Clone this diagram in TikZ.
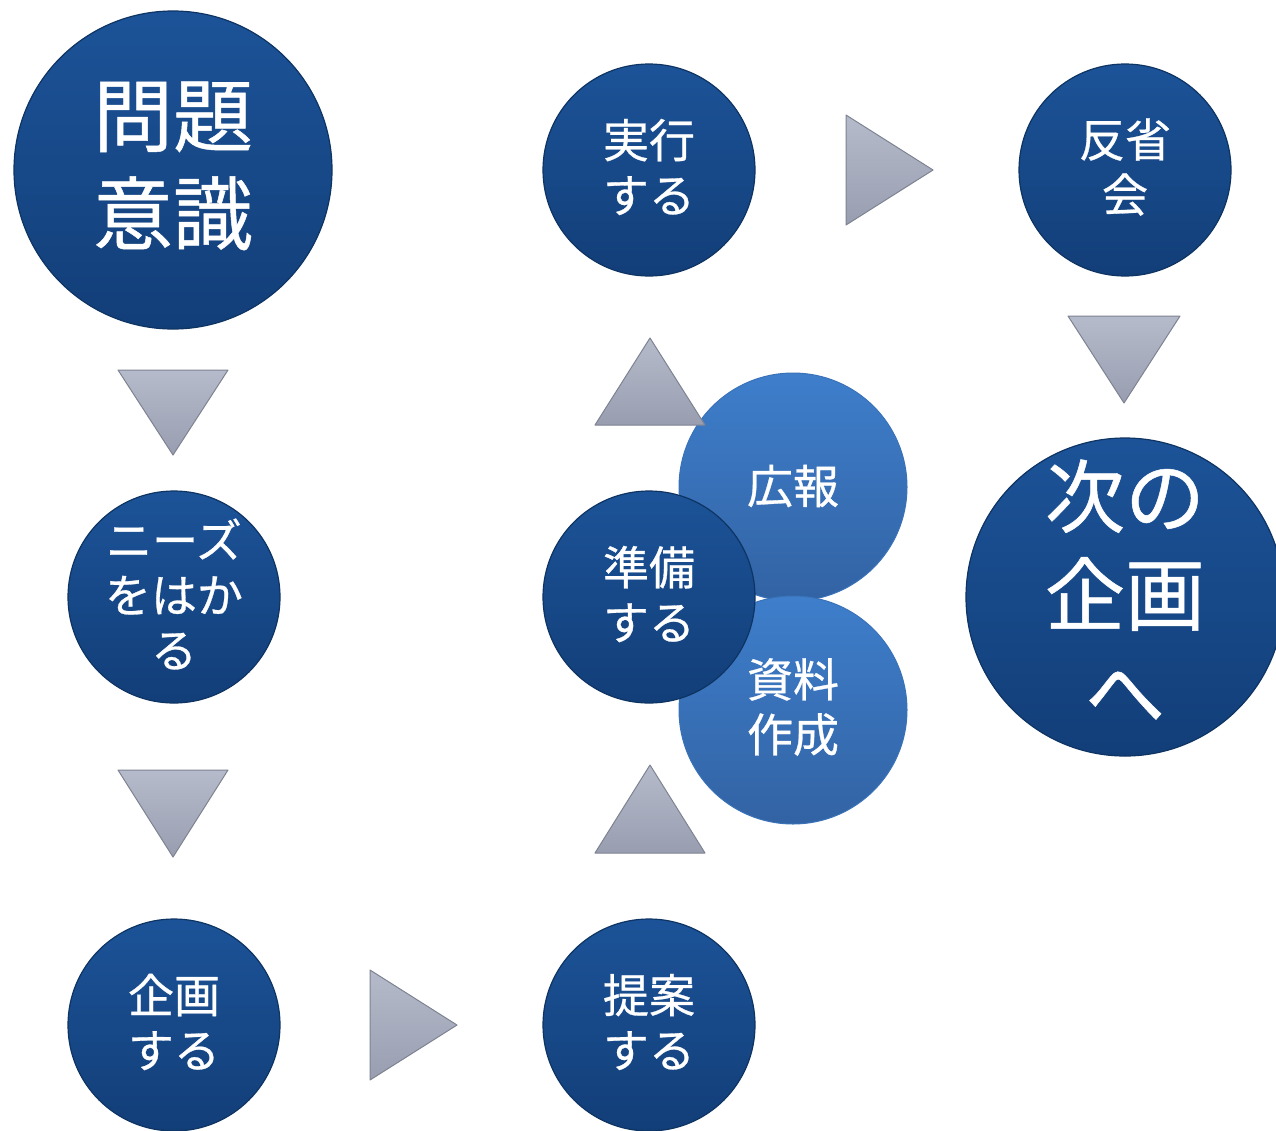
\documentclass[tikz,border=0pt]{standalone}
\usepackage{fontspec}
\setmainfont{Noto Sans CJK JP}[FakeBold=0.6]
\definecolor{dtop}{HTML}{1C5398}
\definecolor{dbot}{HTML}{123E78}
\definecolor{drim}{HTML}{0E3463}
\definecolor{ltop}{HTML}{3E7ECB}
\definecolor{lbot}{HTML}{3263A4}
\definecolor{lrim}{HTML}{3A72B8}
\definecolor{ttop}{HTML}{B6BBCB}
\definecolor{tbot}{HTML}{989EB0}
\definecolor{trim}{HTML}{7E8392}
\tikzset{
  dcirc/.style={circle, inner sep=0pt, top color=dtop, bottom color=dbot, draw=drim, line width=1.2pt},
  smallc/.style={dcirc, minimum size=212pt},
  bigc/.style={dcirc, minimum size=318pt},
  lcirc/.style={circle, inner sep=0pt, minimum size=228pt, top color=ltop, bottom color=lbot, draw=lrim, line width=1pt},
  txt/.style={text=white, align=center, inner sep=0pt},
  stxt/.style={txt, font=\fontsize{46}{55}\selectfont, yshift=3pt},
  btxt/.style={txt, font=\fontsize{80}{98}\selectfont, yshift=4pt},
  tri/.style={top color=ttop, bottom color=tbot, draw=trim, line width=1pt, line join=round}
}
\begin{document}
\begin{tikzpicture}[x=1pt,y=-1pt]
\useasboundingbox[fill=white] (0,0) rectangle (1276,1130);
% circles
\node[bigc, label={[btxt]center:{問題\\意識}}] (mondai) at (173,170) {};
\node[smallc, label={[stxt]center:{実行\\する}}] (jikko) at (649,170) {};
\node[smallc, label={[stxt]center:{反省\\会}}] (hansei) at (1125,170) {};
\node[smallc, label={[stxt]center:{ニーズ\\をはか\\る}}] (needs) at (174,597) {};
\node[lcirc, label={[stxt, yshift=-2pt]center:{広報}}] (koho) at (793,487) {};
\node[lcirc, label={[stxt]center:{資料\\作成}}] (shiryo) at (793,710) {};
\node[smallc, label={[stxt]center:{準備\\する}}] (junbi) at (649,597) {};
\node[bigc, label={[btxt, yshift=2pt]center:{次の\\企画\\へ}}] (tsugi) at (1125,597) {};
\node[smallc, label={[stxt]center:{企画\\する}}] (kikaku) at (174,1025) {};
\node[smallc, label={[stxt]center:{提案\\する}}] (teian) at (649,1025) {};
% triangle arrows
\path[tri] (118,370) -- (228,370) -- (173,455) -- cycle;
\path[tri] (118,770) -- (228,770) -- (173,857) -- cycle;
\path[tri] (370,970) -- (457,1025) -- (370,1080) -- cycle;
\path[tri] (595,853) -- (650,765) -- (705,853) -- cycle;
\path[tri] (595,425) -- (650,338) -- (705,425) -- cycle;
\path[tri] (846,115) -- (933,170) -- (846,225) -- cycle;
\path[tri] (1068,316) -- (1180,316) -- (1124,403) -- cycle;
\end{tikzpicture}
\end{document}
